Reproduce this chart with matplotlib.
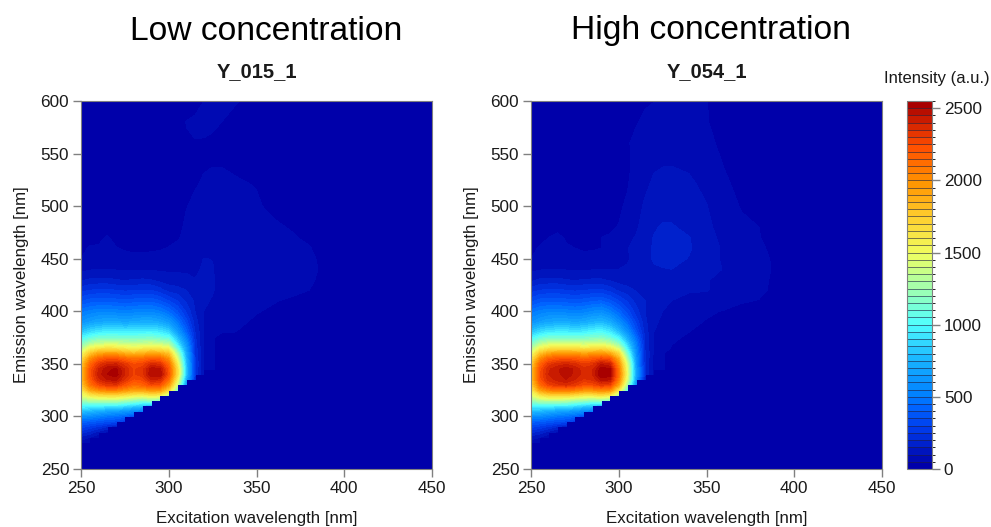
import numpy as np
import matplotlib
matplotlib.use("Agg")
import matplotlib.pyplot as plt
from matplotlib.colors import LinearSegmentedColormap, BoundaryNorm

plt.rcParams['font.family'] = ['Liberation Sans', 'DejaVu Sans']

ex_left = [250,255,260,265,270,275,280,285,290,295,300,305,310,315,320,325]
ex_right = [330,340,350,360,370,380,390,400]
em = [270,275,280,285,290,295,300,305,310,315,320,325,330,335,340,345,350,355,360,365,370,375,
      380,390,400,410,420,430,440,450,460,470,480,500,520,540,560,580,600]

low_left = [
 [40],
 [70,60],
 [130,100,60],
 [220,180,130,90],
 [320,280,240,190,150],
 [420,400,370,350,330,260],
 [580,560,520,480,460,420,360],
 [800,760,720,680,650,620,560,520],
 [1000,980,960,950,950,900,850,800,750],
 [1250,1280,1300,1300,1300,1250,1200,1150,1200,1150],
 [1450,1580,1640,1660,1660,1620,1560,1540,1590,1560,1300],
 [1600,1900,2000,2050,2050,1980,1920,1920,1980,1950,1680,1150],
 [1720,2100,2250,2320,2330,2220,2130,2160,2260,2220,1950,1380,620],
 [1780,2180,2380,2450,2470,2340,2240,2260,2400,2380,2120,1520,700,230],
 [1800,2220,2420,2500,2530,2400,2290,2330,2500,2500,2220,1650,800,250,90],
 [1780,2200,2400,2490,2510,2400,2290,2330,2480,2470,2210,1650,800,250,90,60],
 [1720,2130,2310,2390,2400,2320,2240,2270,2360,2340,2130,1560,780,260,90,60],
 [1620,1990,2150,2210,2210,2140,2090,2120,2180,2150,1980,1420,740,250,90,60],
 [1480,1760,1900,1930,1930,1860,1810,1850,1900,1870,1780,1270,700,240,90,60],
 [1300,1500,1590,1610,1600,1550,1530,1550,1590,1560,1510,1060,650,230,90,60],
 [1120,1260,1330,1350,1350,1330,1310,1330,1350,1310,1260,900,580,220,92,62],
 [980,1060,1120,1130,1130,1120,1120,1130,1140,1100,1050,780,500,210,92,65],
 [830,900,950,970,970,960,960,980,980,950,880,650,420,200,95,70],
 [600,650,690,700,700,690,700,720,720,690,620,480,320,170,98,78],
 [480,510,530,530,520,510,520,530,530,500,440,350,240,150,100,85],
 [340,370,380,380,370,360,370,380,380,350,300,250,190,140,108,95],
 [230,250,260,260,250,240,245,250,250,220,180,170,150,130,115,105],
 [140,155,160,160,150,145,150,155,150,130,120,115,110,102,112,108],
 [85,95,98,98,96,92,92,94,94,92,92,92,94,85,110,105],
 [50,55,58,58,57,56,55,55,56,57,58,62,70,75,102,98],
 [45,52,52,52,51,48,46,46,47,48,51,55,60,62,68,65],
 [40,44,46,52,44,42,40,40,40,42,44,48,55,60,62,60],
 [35,38,40,42,40,38,36,36,36,37,38,44,54,58,60,60],
 [30,30,30,30,30,28,28,28,28,28,30,38,49,56,60,60],
 [25,25,25,25,25,25,25,25,25,25,28,30,40,48,54,56],
 [25,25,25,25,25,25,25,25,25,25,25,30,36,42,47,49],
 [20,20,20,20,20,20,20,20,20,20,22,30,47,49,48,46],
 [20,20,20,20,20,20,20,20,20,20,22,30,51,54,56,54],
 [15,15,15,15,15,15,15,15,15,15,18,22,30,42,50,54],
]
low_right = [[],[],[],[],[],[],[],[],[],[],[],[],[],[],[],[],[],[],[],[],[],[],
 [55,48],
 [62,55,45],
 [70,60,52,45,30],
 [72,62,56,52,45,30],
 [75,65,62,60,58,50,30],
 [70,62,60,60,58,55,40,20],
 [60,60,60,60,58,55,45,25],
 [60,60,58,58,58,55,42,30],
 [60,58,56,55,54,52,35,20],
 [58,57,56,54,53,45,25,10],
 [58,57,55,54,48,35,20,5],
 [58,56,53,44,35,25,10],
 [56,53,49,38,28,15],
 [49,44,38,30,20,10],
 [42,36,30,24,15,5],
 [50,42,30,22,12],
 [56,50,35,20,8],
]

high_left = [
 [40],
 [65,60],
 [125,100,60],
 [210,175,130,90],
 [310,280,240,190,150],
 [410,400,370,350,330,260],
 [570,560,520,480,460,420,360],
 [780,760,720,680,650,620,560,520],
 [980,980,960,950,950,900,850,800,750],
 [1230,1300,1320,1320,1300,1250,1220,1180,1200,1150],
 [1430,1600,1680,1690,1690,1640,1590,1590,1640,1580,1250],
 [1580,1930,2040,2090,2090,2040,1990,1990,2040,1990,1600,1050],
 [1700,2120,2280,2330,2360,2310,2240,2250,2320,2280,1900,1250,560],
 [1760,2220,2370,2420,2450,2400,2340,2360,2470,2460,2050,1400,620,190],
 [1780,2240,2400,2440,2470,2440,2380,2400,2550,2530,2100,1450,650,200,85],
 [1760,2220,2390,2440,2480,2440,2370,2390,2530,2510,2080,1430,640,200,85,60],
 [1700,2140,2310,2370,2390,2360,2300,2330,2440,2400,2000,1380,620,200,85,60],
 [1600,2000,2160,2200,2220,2200,2160,2190,2240,2190,1870,1250,590,200,88,60],
 [1460,1770,1910,1940,1950,1940,1910,1930,1960,1880,1670,1100,560,200,90,62],
 [1290,1510,1600,1630,1630,1620,1590,1610,1640,1570,1390,950,530,195,92,65],
 [1110,1280,1350,1370,1370,1360,1340,1360,1380,1310,1150,820,490,190,95,68],
 [970,1070,1120,1130,1130,1120,1130,1150,1170,1100,960,700,430,185,98,70],
 [820,900,950,960,960,950,960,1000,1020,950,800,590,360,175,100,75],
 [590,650,690,700,700,690,700,740,760,700,570,430,280,160,110,90],
 [470,510,530,530,520,510,520,550,570,510,420,320,220,150,120,100],
 [330,370,380,380,370,360,370,390,400,360,300,240,180,150,130,115],
 [225,250,260,260,250,240,250,255,260,230,190,170,145,135,130,125],
 [135,155,160,160,150,145,150,155,155,140,125,118,118,120,130,130],
 [85,95,98,98,96,94,94,96,98,98,100,105,110,130,145,148],
 [50,58,60,60,58,55,55,56,58,65,75,95,115,135,155,160],
 [45,52,54,54,52,50,48,48,50,58,65,98,118,135,155,165],
 [40,44,50,55,48,46,46,46,50,52,55,85,105,132,152,165],
 [35,38,40,44,42,40,40,42,44,47,51,65,93,122,145,155],
 [30,30,30,32,32,32,32,34,36,40,45,55,80,108,125,130],
 [25,25,25,26,26,26,26,28,30,34,38,48,65,90,110,118],
 [20,20,22,22,22,22,24,26,30,34,38,46,56,72,92,97],
 [20,20,20,20,20,22,24,26,30,34,38,47,58,66,74,78],
 [18,18,18,18,18,20,22,24,28,32,36,40,48,56,64,68],
 [15,15,15,15,15,15,18,20,24,27,30,34,40,46,49,58],
]
high_right = [[],[],[],[],[],[],[],[],[],[],[],[],[],[],[],[],[],[],[],
 [48],
 [52,40],
 [56,45,30],
 [60,50,38,25],
 [70,58,48,38,25],
 [82,65,55,48,35,20],
 [100,85,70,65,55,48,25],
 [112,105,104,75,68,60,38,20],
 [125,118,105,80,70,60,42,25],
 [150,125,115,98,72,62,44,30],
 [165,148,122,92,72,62,42,30],
 [168,155,125,92,70,56,40,20],
 [168,152,120,85,62,52,30,10],
 [155,138,112,78,58,50,28,8],
 [130,118,102,68,47,35,15],
 [118,110,88,58,38,20,5],
 [98,92,72,48,28,10],
 [78,72,58,42,22,5],
 [68,62,52,36,18],
 [62,58,51,32,12],
]

levels = list(range(0, 2600, 50))
cbar_ticks = [0, 500, 1000, 1500, 2000, 2500]
x_ticks = [250, 300, 350, 400, 450]
y_ticks = [250, 300, 350, 400, 450, 500, 550, 600]
titles = ["Y_015_1", "Y_054_1"]
heads = ["Low concentration", "High concentration"]

anchors = [(0,'#0000AA'),(100,'#0014BC'),(250,'#0038E8'),(400,'#0060FF'),(500,'#0080FF'),(750,'#18B4FF'),
           (1000,'#50FFFF'),(1250,'#A0FFB0'),(1500,'#F0FF60'),(1750,'#FFD030'),(2000,'#FF9400'),
           (2250,'#FF5000'),(2400,'#D82800'),(2550,'#A80000')]
cmap = LinearSegmentedColormap.from_list('eem', [(v/2550, c) for v, c in anchors], N=51)
norm = BoundaryNorm(levels, cmap.N)

W, H = 991, 527
fig = plt.figure(figsize=(W/100, H/100), dpi=100)
GREY = '#808080'
TXT = '#1a1a1a'

def box(x0, x1, y0, y1):
    return [x0/W, 1-y1/H, (x1-x0)/W, (y1-y0)/H]

def table(left, right):
    rows = []
    for a, b in zip(left, right):
        rows.append(list(a)+[np.nan]*(len(ex_left)-len(a))+list(b)+[0]*(len(ex_right)-len(b)))
    return np.array(rows, float)

cf = None
for i, (x0, lt, rt) in enumerate([(81, low_left, low_right), (531, high_left, high_right)]):
    ax = fig.add_axes(box(x0, x0+351, 101, 469))
    ax.set_facecolor('#0000AA')
    cf = ax.contourf(ex_left+ex_right, em, table(lt, rt), levels=levels, cmap=cmap, norm=norm,
                     corner_mask=False)
    ax.set_xlim(250, 450)
    ax.set_ylim(250, 600)
    ax.set_xticks(x_ticks)
    ax.set_yticks(y_ticks)
    ax.tick_params(colors=GREY, labelcolor=TXT, labelsize=12.3, length=6, width=1, pad=2.5)
    for s in ax.spines.values():
        s.set_color(GREY)
    ax.text(0.5, -49/368, "Excitation wavelength [nm]", transform=ax.transAxes, fontsize=12.2,
            color=TXT, ha='center', va='center')
    ax.set_ylabel("Emission wavelength [nm]", fontsize=12.2, color=TXT, labelpad=8)
    ax.set_title(titles[i], fontsize=14.5, fontweight='bold', color=TXT, pad=17)

fig.text(266/W, 1-31/H, heads[0], fontsize=24.2, ha='center', va='center', color='black')
fig.text(711/W, 1-30/H, heads[1], fontsize=24.2, ha='center', va='center', color='black')
fig.text(937/W, 1-78/H, "Intensity (a.u.)", fontsize=12, ha='center', va='center', color=TXT)

cax = fig.add_axes(box(907, 932, 101, 469))
cb = fig.colorbar(cf, cax=cax, ticks=cbar_ticks, drawedges=True, spacing='proportional')
cb.dividers.set_color('#202040')
cb.dividers.set_linewidth(0.7)
cb.dividers.set_alpha(0.6)
cb.outline.set_edgecolor(GREY)
cb.ax.tick_params(colors=GREY, labelcolor=TXT, labelsize=12.3, length=6, width=1, pad=2.5)
cb.set_ticklabels([str(t) for t in cbar_ticks])

fig.savefig('out.png', dpi=100)
